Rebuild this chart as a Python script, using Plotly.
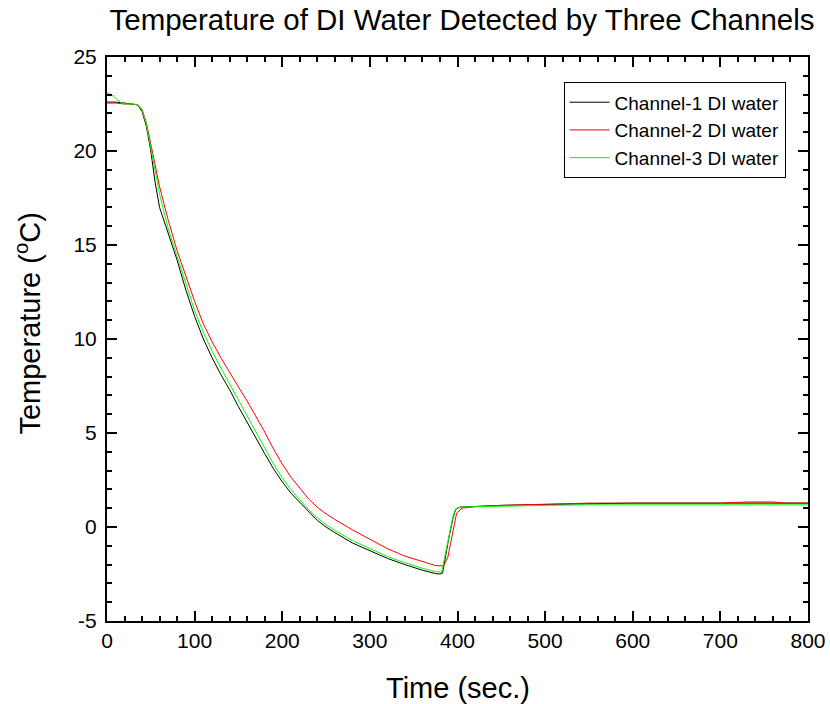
import plotly.graph_objects as go

# Channel-1 DI water (black)
t_ch1 = [0, 10, 20, 30, 35, 40, 45, 50, 55, 60, 70, 80, 90, 100, 110, 120, 130, 140,
         150, 160, 170, 180, 190, 200, 210, 220, 230, 240, 250, 260, 280, 300, 320,
         340, 360, 375, 380, 383, 386, 390, 395, 398, 403, 420, 450, 500, 550, 600,
         700, 800]
temp_ch1 = [22.6, 22.6, 22.55, 22.5, 22.45, 22.1, 21.3, 20.0, 18.3, 17.0, 15.6, 14.2,
            12.6, 11.2, 10.0, 9.0, 8.1, 7.3, 6.4, 5.55, 4.7, 3.9, 3.1, 2.4, 1.8, 1.3,
            0.8, 0.35, 0.0, -0.3, -0.85, -1.27, -1.67, -2.0, -2.3, -2.48, -2.5, -2.45,
            -1.6, -0.6, 0.5, 0.95, 1.06, 1.1, 1.15, 1.2, 1.25, 1.27, 1.27, 1.27]

# Channel-2 DI water (red)
t_ch2 = [0, 10, 20, 30, 35, 40, 45, 50, 55, 60, 70, 80, 90, 100, 110, 120, 130, 140,
         150, 160, 170, 180, 190, 200, 210, 220, 230, 240, 250, 260, 280, 300, 320,
         340, 360, 375, 384, 389, 392, 395, 399, 405, 420, 450, 500, 550, 700, 730,
         760, 775, 800]
temp_ch2 = [22.55, 22.55, 22.5, 22.5, 22.45, 22.2, 21.5, 20.4, 19.2, 18.1, 16.3, 14.7,
            13.35, 12.0, 10.8, 9.85, 9.0, 8.2, 7.45, 6.7, 5.9, 5.05, 4.15, 3.35, 2.65,
            2.05, 1.5, 1.05, 0.7, 0.4, -0.15, -0.65, -1.15, -1.55, -1.85, -2.05, -2.07,
            -1.6, -0.9, -0.16, 0.74, 1.0, 1.08, 1.15, 1.22, 1.27, 1.27, 1.33, 1.33,
            1.27, 1.27]

# Channel-3 DI water (green)
t_ch3 = [0, 5, 10, 15, 20, 30, 35, 40, 45, 50, 55, 60, 70, 80, 90, 100, 110, 120, 130,
         140, 150, 160, 170, 180, 190, 200, 210, 220, 230, 240, 250, 260, 280, 300,
         320, 340, 360, 375, 382, 385, 390, 395, 398, 403, 420, 450, 500, 550, 800]
temp_ch3 = [23.1, 23.0, 22.8, 22.6, 22.5, 22.5, 22.45, 22.2, 21.4, 20.2, 18.9, 17.7,
            15.85, 14.4, 12.9, 11.5, 10.35, 9.35, 8.45, 7.6, 6.7, 5.85, 5.0, 4.2,
            3.35, 2.6, 1.98, 1.45, 0.93, 0.48, 0.12, -0.18, -0.72, -1.15, -1.57, -1.9,
            -2.2, -2.38, -2.4, -1.7, -0.5, 0.6, 0.98, 1.05, 1.08, 1.12, 1.15, 1.18, 1.18]

x_ticks = [0, 100, 200, 300, 400, 500, 600, 700, 800]
x_tick_labels = ["0", "100", "200", "300", "400", "500", "600", "700", "800"]
y_ticks = [-5, 0, 5, 10, 15, 20, 25]
y_tick_labels = ["-5", "0", "5", "10", "15", "20", "25"]

FONT = "Arial, Liberation Sans, sans-serif"

fig = go.Figure()
for name, t, v, color in [
    ("Channel-1 DI water", t_ch1, temp_ch1, "#000000"),
    ("Channel-2 DI water", t_ch2, temp_ch2, "#ff0000"),
    ("Channel-3 DI water", t_ch3, temp_ch3, "#00ff00"),
]:
    fig.add_trace(go.Scatter(x=t, y=v, mode="lines", name=name,
                             line=dict(color=color, width=1)))

axis_common = dict(
    showgrid=False, zeroline=False, showline=True, linecolor="black", linewidth=2,
    mirror="ticks", ticks="inside", ticklen=10, tickwidth=2, tickcolor="black",
    tickfont=dict(family=FONT, size=21, color="black"), automargin=False,
)

fig.update_xaxes(range=[0, 800], tickvals=x_ticks, ticktext=x_tick_labels,
                 minor=dict(dtick=20, ticks="inside", ticklen=5, tickwidth=2,
                            tickcolor="black"),
                 **axis_common)
fig.update_yaxes(range=[-5, 25], tickvals=y_ticks, ticktext=y_tick_labels,
                 minor=dict(dtick=1, ticks="inside", ticklen=5, tickwidth=2,
                            tickcolor="black"),
                 ticklabelstandoff=4,
                 **axis_common)

fig.update_layout(
    width=830, height=704,
    margin=dict(l=107, r=22, t=57, b=83),
    paper_bgcolor="white", plot_bgcolor="white",
    showlegend=True,
    title=dict(text="Temperature of DI Water Detected by Three Channels",
               font=dict(family=FONT, size=29.5, color="black"),
               x=462 / 830, xref="container", xanchor="center",
               y=1 - 20 / 704, yref="container", yanchor="middle"),
    legend=dict(x=0.968, y=0.955, xanchor="right", yanchor="top",
                bgcolor="white", bordercolor="black", borderwidth=1,
                font=dict(family=FONT, size=19, color="black"),
                tracegroupgap=0, itemwidth=40),
    annotations=[
        dict(text="Time (sec.)", xref="paper", yref="paper", x=351 / 701,
             y=-0.119, xanchor="center", yanchor="middle", showarrow=False,
             font=dict(family=FONT, size=29, color="black")),
        dict(text="Temperature (<sup>o</sup>C)", xref="paper", yref="paper",
             x=-0.113, y=0.527, xanchor="center", yanchor="middle", textangle=-90,
             showarrow=False, font=dict(family=FONT, size=29, color="black")),
    ],
)

fig.write_html("out.html")
